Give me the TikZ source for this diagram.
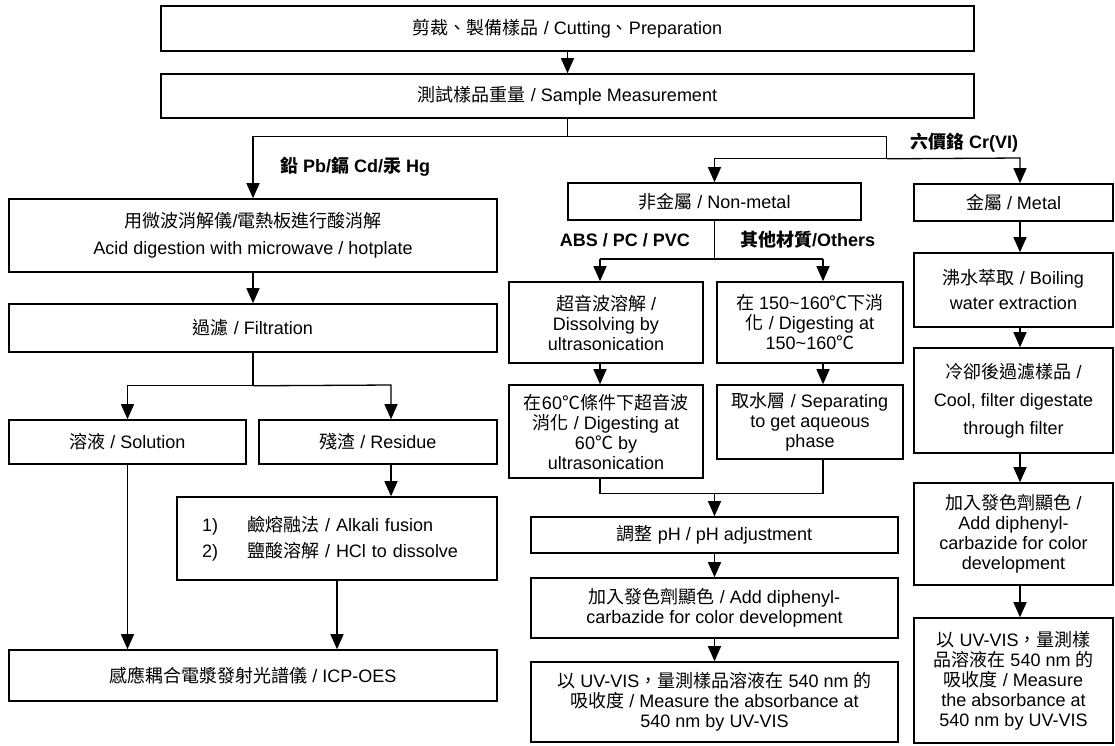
\documentclass[tikz,border=0pt]{standalone}
\usepackage{fontspec}
\setmainfont{Liberation Sans}
\newfontfamily\zhfont{Noto Sans CJK TC}
\newcommand{\zh}[1]{{\zhfont #1}}
\usetikzlibrary{arrows.meta, calc}

\begin{document}
\begin{tikzpicture}[x=1pt, y=-1pt, >={Triangle[length=15pt, width=13pt]},
        stage/.style={draw, line width=1.6pt, align=center, inner sep=0pt,
            font=\fontsize{18}{20}\selectfont},
        flow/.style={line width=1.3pt},
        branch/.style={inner sep=0pt, font=\fontsize{18}{20}\selectfont\bfseries}]
        \path[fill=white] (0,0) rectangle (1115,745);

        \node[stage, minimum width=813pt, minimum height=45pt] at (567.5,28.5) (cutting) {\zh{剪裁、製備樣品} / Cutting\zh{、}Preparation};
        \node[stage, minimum width=813pt, minimum height=44pt] at (567.5,96) (weighing) {\zh{測試樣品重量} / Sample Measurement};

        \node[branch, anchor=west] at (280,167) (pbcdhg) {\zh{鉛} Pb/\zh{鎘} Cd/\zh{汞} Hg};
        \node[branch, anchor=west] at (910,143) (crvi) {\zh{六價鉻} Cr(VI)};
        \node[branch, anchor=east] at (690,240) (abs) {ABS / PC / PVC};
        \node[branch, anchor=west] at (740,240) (others) {\zh{其他材質}/Others};

        \node[stage, minimum width=488pt, minimum height=73pt] at (253,235.5) (acid) {\zh{用微波消解儀}/\zh{電熱板進行酸消解}\\[7pt]Acid digestion with microwave / hotplate};
        \node[stage, minimum width=488pt, minimum height=48pt] at (253,328) (filtration) {\zh{過濾} / Filtration};
        \node[stage, minimum width=237pt, minimum height=44pt] at (127.5,442) (solution) {\zh{溶液} / Solution};
        \node[stage, minimum width=238pt, minimum height=44pt] at (378,442) (residue) {\zh{殘渣} / Residue};
        \node[stage, align=left, text width=270pt, minimum width=320pt, minimum height=83pt] at (337,538.5) (fusion) {\makebox[45pt][l]{1)}\zh{鹼熔融法} / Alkali fusion\\[6pt]\makebox[45pt][l]{2)}\zh{鹽酸溶解} / HCl to dissolve};
        \node[stage, minimum width=488pt, minimum height=51pt] at (253,675.5) (icp) {\zh{感應耦合電漿發射光譜儀} / ICP-OES};

        \node[stage, minimum width=293pt, minimum height=37pt] at (714.5,201.5) (nonmetal) {\zh{非金屬} / Non-metal};
        \node[stage, minimum width=194pt, minimum height=81pt] at (606,322.5) (ultrasonic) {\zh{超音波溶解} /\\Dissolving by\\ultrasonication};
        \node[stage, minimum width=186pt, minimum height=81pt] at (810,322.5) (digest) {\zh{在} 150\textasciitilde160\zh{℃下消}\\\zh{化} / Digesting at\\150\textasciitilde160\zh{℃}};
        \node[stage, minimum width=194pt, minimum height=93pt] at (606,431.5) (sonidigest) {\zh{在}60\zh{℃條件下超音波}\\\zh{消化} / Digesting at\\60\zh{℃} by\\ultrasonication};
        \node[stage, minimum width=186pt, minimum height=74pt] at (810,422) (aqueous) {\zh{取水層} / Separating\\to get aqueous\\phase};
        \node[stage, minimum width=367pt, minimum height=36pt] at (714.5,535) (ph) {\zh{調整} pH / pH adjustment};
        \node[stage, minimum width=367pt, minimum height=60pt] at (714.5,608) (colour) {\zh{加入發色劑顯色} / Add diphenyl-\\carbazide for color development};
        \node[stage, minimum width=367pt, minimum height=80pt] at (714.5,702) (uvvis) {\zh{以} UV-VIS\zh{，量測樣品溶液在} 540 nm \zh{的}\\\zh{吸收度} / Measure the absorbance at\\540 nm by UV-VIS};

        \node[stage, minimum width=199pt, minimum height=37pt] at (1013.5,202.5) (metal) {\zh{金屬} / Metal};
        \node[stage, minimum width=199pt, minimum height=74pt] at (1013.5,290) (boiling) {\zh{沸水萃取} / Boiling\\[5pt]water extraction};
        \node[stage, minimum width=199pt, minimum height=105pt] at (1013.5,400.5) (cooling) {\zh{冷卻後過濾樣品} /\\[8pt]Cool, filter digestate\\[8pt]through filter};
        \node[stage, minimum width=199pt, minimum height=102pt] at (1013.5,534) (colourm) {\zh{加入發色劑顯色} /\\Add diphenyl-\\carbazide for color\\development};
        \node[stage, minimum width=199pt, minimum height=125pt] at (1013.5,680.5) (uvvism) {\zh{以} UV-VIS\zh{，量測樣}\\\zh{品溶液在} 540 nm \zh{的}\\\zh{吸收度} / Measure\\the absorbance at\\540 nm by UV-VIS};

        \draw[flow, ->] (cutting.south) -- (weighing.north);
        \draw[flow] (weighing.south) -- ++(0,18) coordinate (split);
        \draw[flow, ->] (split) -| (acid.north);
        \draw[flow] (split) -| ++(319,22) coordinate (crsplit);
        \coordinate (rcol) at (1020,158);
        \draw[flow, ->] (crsplit) -| (nonmetal.north);
        \draw[flow, ->] (crsplit) -- (rcol) -- (rcol |- metal.north);

        \draw[flow, ->] (acid.south) -- (filtration.north);
        \draw[flow] (filtration.south) -- ++(0,33) coordinate (fsplit);
        \coordinate (resx) at (391,385);
        \draw[flow, ->] (fsplit) -| (solution.north);
        \draw[flow, ->] (fsplit) -- (resx) -- (resx |- residue.north);
        \draw[flow, ->] (resx |- residue.south) -- (resx |- fusion.north);
        \draw[flow, ->] (solution.south) -- (solution.south |- icp.north);
        \draw[flow, ->] (fusion.south) -- (fusion.south |- icp.north);

        \draw[flow] (nonmetal.south) -- ++(0,39) coordinate (nmsplit);
        \coordinate (absx) at (600,259);
        \coordinate (othx) at (823,259);
        \draw[flow] (absx) -- (othx);
        \draw[flow, ->] (absx) -- (absx |- ultrasonic.north);
        \draw[flow, ->] (othx) -- (othx |- digest.north);
        \draw[flow, ->] (absx |- ultrasonic.south) -- (absx |- sonidigest.north);
        \draw[flow, ->] (othx |- digest.south) -- (othx |- aqueous.north);
        \draw[flow] (absx |- sonidigest.south) -- ++(0,15) coordinate (merge) -- (merge -| othx) -- (othx |- aqueous.south);
        \draw[flow, ->] (merge -| ph.north) -- (ph.north);
        \foreach \a/\b in {ph/colour, colour/uvvis}
            \draw[flow, ->] (\a.south) -- (\b.north);

        \foreach \a/\b in {metal/boiling, boiling/cooling, cooling/colourm, colourm/uvvism}
            \draw[flow, ->] (rcol |- \a.south) -- (rcol |- \b.north);
    \end{tikzpicture}
\end{document}
